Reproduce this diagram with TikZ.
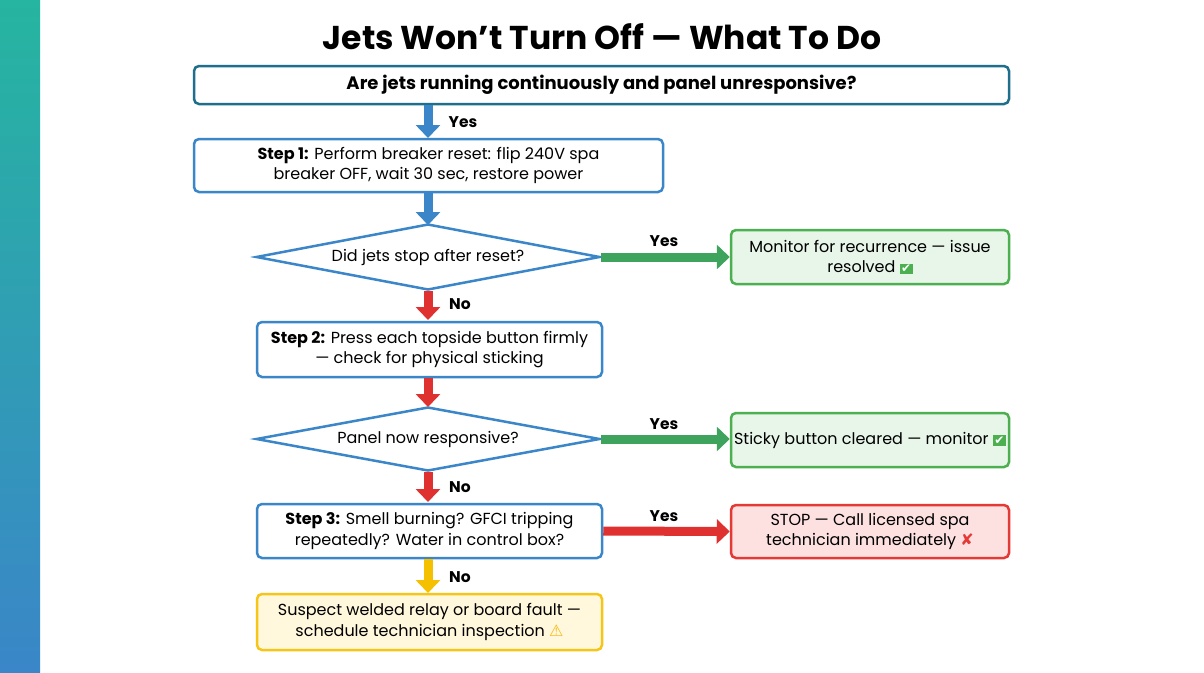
\documentclass[tikz,border=0pt]{standalone}
\usepackage{fontspec}
\setmainfont{Poppins}
\newfontfamily\sym{DejaVu Sans}
\usetikzlibrary{arrows.meta,shapes.geometric}
\definecolor{tealB}{HTML}{1F6E8C}
\definecolor{blueB}{HTML}{3A86C8}
\definecolor{greenB}{HTML}{4CAF50}
\definecolor{greenF}{HTML}{E8F5E9}
\definecolor{redB}{HTML}{E53935}
\definecolor{redF}{HTML}{FDE0E0}
\definecolor{yelB}{HTML}{F5C518}
\definecolor{yelF}{HTML}{FFF8DC}
\definecolor{arrG}{HTML}{3DA35D}
\definecolor{arrR}{HTML}{E03131}
\definecolor{arrY}{HTML}{F5C000}
\definecolor{arrB}{HTML}{3A86C8}
\definecolor{stripT}{HTML}{26B5A0}
\newcommand{\okmark}{{\setlength{\fboxsep}{1.5pt}\sym\colorbox{greenB}{\textcolor{white}{\fontsize{12}{12}\selectfont\bfseries ✔}}}}
\newcommand{\nomark}{{\sym\textcolor{redB}{\bfseries ✘}}}
\newcommand{\warnmark}{{\sym\textcolor{yelB!80!orange}{⚠}}}
\begin{document}
\begin{tikzpicture}[x=1pt,y=-1pt,
 box/.style={draw,rounded corners=5pt,line width=2.5pt,align=center,font=\fontsize{16}{20.5}\selectfont,inner sep=3pt},
 dia/.style={draw=blueB,diamond,aspect=5.4,line width=2.5pt,fill=white,font=\fontsize{16}{20}\selectfont,inner sep=0pt},
 fat/.style={line width=9pt,-{Triangle[width=24pt,length=13pt]}},
 lab/.style={font=\bfseries\fontsize{15.5}{20}\selectfont}]
\useasboundingbox (0,0) rectangle (1204,672);
\fill[white] (0,0) rectangle (1204,672);
\shade[top color=stripT,bottom color=blueB] (0,0) rectangle (40,672);
\node[font=\bfseries\fontsize{33}{40}\selectfont] (title) at (602,37) {Jets Won’t Turn Off — What To Do};
\node[box,draw=tealB,minimum width=815pt,minimum height=38pt,font=\bfseries\fontsize{18}{22}\selectfont] (q) at (601.5,85) {Are jets running continuously and panel unresponsive?};
\node[box,draw=blueB,minimum width=469pt,minimum height=53pt] (s1) at (428.5,165.5) {\textbf{Step 1:} Perform breaker reset: flip 240V spa\\breaker OFF, wait 30 sec, restore power};
\node[dia,minimum width=344pt,minimum height=66pt] (d1) at (428,257) {Did jets stop after reset?};
\node[box,draw=greenB,fill=greenF,minimum width=278pt,minimum height=54pt] (g1) at (870,257) {Monitor for recurrence — issue\\resolved \okmark};
\node[box,draw=blueB,minimum width=345pt,minimum height=55pt] (s2) at (429.5,349.5) {\textbf{Step 2:} Press each topside button firmly\\— check for physical sticking};
\node[dia,minimum width=344pt,minimum height=64pt] (d2) at (428,439) {Panel now responsive?};
\node[box,draw=greenB,fill=greenF,minimum width=278pt,minimum height=54pt] (g2) at (870,440) {Sticky button cleared — monitor \okmark};
\node[box,draw=blueB,minimum width=345pt,minimum height=54pt] (s3) at (429.5,531) {\textbf{Step 3:} Smell burning? GFCI tripping\\repeatedly? Water in control box?};
\node[box,draw=redB,fill=redF,minimum width=278pt,minimum height=53pt] (r) at (870,531.5) {STOP — Call licensed spa\\technician immediately \nomark};
\node[box,draw=yelB,fill=yelF,minimum width=345pt,minimum height=56pt] (y) at (429.5,622) {Suspect welded relay or board fault —\\schedule technician inspection \warnmark};
\coordinate (a1) at (428,138);
\coordinate (a2) at (428,225);
\coordinate (a3) at (428,320);
\coordinate (a4) at (428,407);
\coordinate (a5) at (428,502);
\coordinate (a6) at (428,593);
\draw[fat,arrB] (q.south -| a1) -- (a1);
\draw[fat,arrB] (s1.south -| a2) -- (a2);
\draw[fat,arrR] (d1.south) -- (a3);
\draw[fat,arrR] (s2.south -| a4) -- (a4);
\draw[fat,arrR] (d2.south) -- (a5);
\draw[fat,arrY] (s3.south -| a6) -- (a6);
\draw[fat,arrG] (d1.east) -- (g1.west);
\draw[fat,arrG] (d2.east) -- (d2.east -| g2.west);
\draw[fat,arrR] (s3.east) -- (r.west);
\node[lab] (l1) at (463,122) {Yes};
\node[lab] (l2) at (664,241) {Yes};
\node[lab] (l3) at (460,304) {No};
\node[lab] (l4) at (664,424) {Yes};
\node[lab] (l5) at (460,487) {No};
\node[lab] (l6) at (664,516) {Yes};
\node[lab] (l7) at (460,577) {No};
\end{tikzpicture}
\end{document}
